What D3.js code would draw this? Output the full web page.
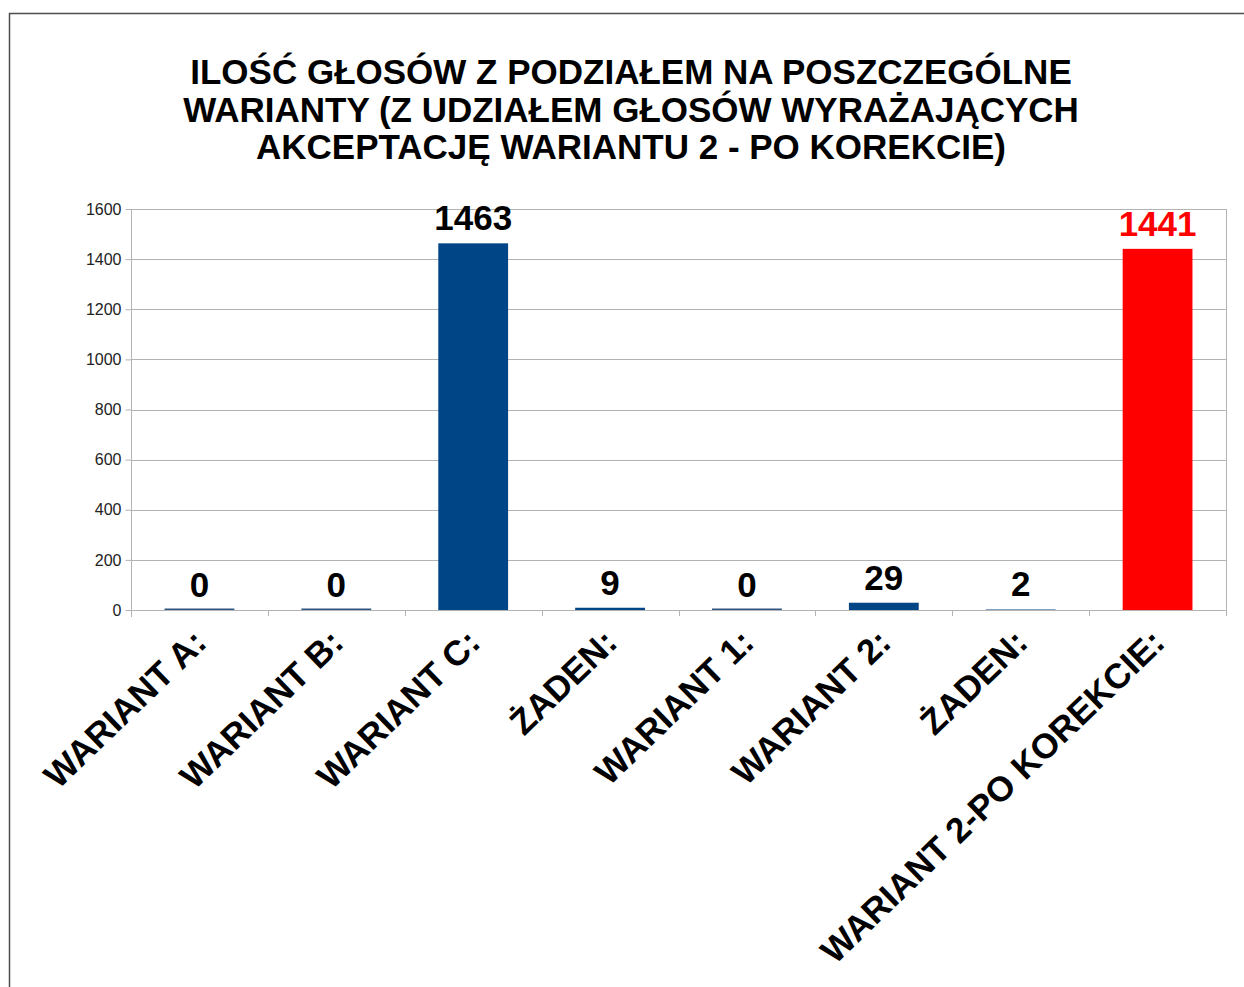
<!DOCTYPE html>
<html><head><meta charset="utf-8">
<script src="https://cdn.jsdelivr.net/npm/d3@7"></script>
<style>html,body{margin:0;padding:0;background:#fff;}svg{display:block;font-family:"Liberation Sans",Arial,sans-serif;}</style>
</head><body>
<script>
const titleLines = ["ILOŚĆ GŁOSÓW Z PODZIAŁEM NA POSZCZEGÓLNE","WARIANTY (Z UDZIAŁEM GŁOSÓW WYRAŻAJĄCYCH","AKCEPTACJĘ WARIANTU 2 - PO KOREKCIE)"];
const categories = ["WARIANT A:","WARIANT B:","WARIANT C:","ŻADEN:","WARIANT 1:","WARIANT 2:","ŻADEN:","WARIANT 2-PO KOREKCIE:"];
const values = [0,0,1463,9,0,29,2,1441];
const barColors = ["#004586","#004586","#004586","#004586","#004586","#004586","#004586","#ff0000"];
const labelColors = ["#000","#000","#000","#000","#000","#000","#000","#ff0000"];
const yTicks = [0,200,400,600,800,1000,1200,1400,1600];

const W = 1244, H = 987;
const svg = d3.select("body").append("svg").attr("width", W).attr("height", H);
svg.append("rect").attr("width", W).attr("height", H).attr("fill", "#fff");

// outer border (top and left visible)
svg.append("path").attr("d", "M9.5,987 V13.5 H1244").attr("fill", "none").attr("stroke", "#4d4d4d").attr("stroke-width", 1.5);

// title
svg.append("text").attr("text-anchor", "middle").attr("font-weight", "bold").attr("font-size", 35).attr("fill", "#000")
  .selectAll("tspan").data(titleLines).join("tspan")
  .attr("x", 631).attr("y", (d, i) => 84 + i * 37.5).text(d => d);

const x0 = 131, x1 = 1226, yTop = 209, yBot = 610;
const x = d3.scaleBand().domain(d3.range(categories.length)).range([x0, x1]).paddingInner(0.49).paddingOuter(0.245);
const y = d3.scaleLinear().domain([0, 1600]).range([yBot, yTop]);

// grid
svg.append("g").selectAll("line").data(yTicks).join("line")
  .attr("x1", x0).attr("x2", x1).attr("y1", d => Math.round(y(d)) + 0.5).attr("y2", d => Math.round(y(d)) + 0.5)
  .attr("stroke", "#b3b3b3").attr("stroke-width", 1);
// right edge of plot
svg.append("line").attr("x1", x1 + 0.5).attr("x2", x1 + 0.5).attr("y1", yTop).attr("y2", yBot + 6).attr("stroke", "#b3b3b3");

// y axis
const yAxis = d3.axisLeft(y).tickValues(yTicks).tickSize(6).tickPadding(4).tickFormat(d3.format("d"));
const ya = svg.append("g").attr("transform", `translate(${x0 + 0.5},0)`).call(yAxis);
ya.select(".domain").attr("stroke", "#b3b3b3").attr("d", `M0,${yTop}V${yBot + 7}`);
ya.selectAll(".tick line").attr("stroke", "#b3b3b3");
ya.selectAll(".tick text").attr("font-size", 16).attr("fill", "#222").attr("font-family", "'Liberation Sans',Arial,sans-serif");

// x axis category boundary ticks
const step = x.step();
const bounds = d3.range(categories.length + 1).map(i => x0 + i * step);
svg.append("g").selectAll("line").data(bounds).join("line")
  .attr("x1", d => Math.round(d) + 0.5).attr("x2", d => Math.round(d) + 0.5)
  .attr("y1", yBot).attr("y2", yBot + 6).attr("stroke", "#b3b3b3");

// bars
const bars = svg.append("g");
bars.selectAll("rect").data(values).join("rect")
  .attr("x", (d, i) => x(i)).attr("width", x.bandwidth())
  .attr("y", d => d === 0 ? y(0) - 1.5 : y(d))
  .attr("height", d => d === 0 ? 2.5 : y(0) - y(d))
  .attr("fill", (d, i) => d === 0 ? "#2f5583" : barColors[i]);

// value labels
svg.append("g").selectAll("text").data(values).join("text")
  .attr("x", (d, i) => x(i) + x.bandwidth() / 2).attr("y", d => y(d) - 13)
  .attr("text-anchor", "middle").attr("font-weight", "bold").attr("font-size", 35)
  .attr("fill", (d, i) => labelColors[i]).text(d => d);

// category labels
svg.append("g").selectAll("text").data(categories).join("text")
  .attr("transform", (d, i) => `translate(${x(i) + x.bandwidth() / 2 + 9},645) rotate(-44)`)
  .attr("text-anchor", "end").attr("font-weight", "bold").attr("font-size", 35).attr("fill", "#000")
  .text(d => d);

// x axis line
svg.append("line").attr("x1", x0).attr("x2", x1).attr("y1", yBot + 0.5).attr("y2", yBot + 0.5).attr("stroke", "#b3b3b3");
</script>
</body></html>
